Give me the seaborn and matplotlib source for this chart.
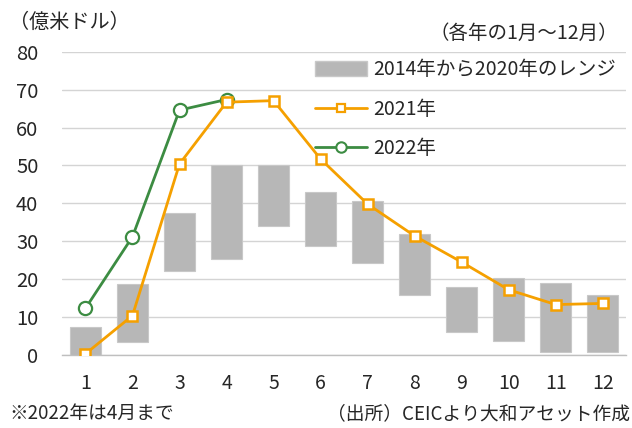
import numpy as np
import pandas as pd
import seaborn as sns
import matplotlib.pyplot as plt
from matplotlib.patches import Patch
from matplotlib.lines import Line2D

months = [1, 2, 3, 4, 5, 6, 7, 8, 9, 10, 11, 12]
range_low = [0.0, 3.4, 22.2, 25.3, 34.1, 28.8, 24.2, 15.9, 6.0, 3.6, 0.8, 0.7]
range_high = [7.5, 18.7, 37.4, 50.1, 50.1, 42.9, 40.7, 31.9, 18.0, 20.4, 18.9, 15.7]
y2021 = [0.3, 10.4, 50.4, 66.7, 67.1, 51.7, 39.8, 31.4, 24.5, 17.2, 13.3, 13.6]
y2022 = [12.3, 31.2, 64.6, 67.4]

gray = '#b7b7b7'
orange = '#f5a000'
green = '#3c8c42'

sns.set_theme(style='white')
plt.rcParams['font.family'] = ['Noto Sans CJK JP', 'DejaVu Sans']

fig = plt.figure(figsize=(6.32, 4.28), dpi=100)
ax = fig.add_axes([0.098, 0.1706, 0.893, 0.7085])

pos = np.arange(len(months))
ax.bar(pos, np.array(range_high) - np.array(range_low), bottom=range_low,
       width=0.66, color=gray, edgecolor='#c8c8c8', linewidth=0.8, zorder=2)

df21 = pd.DataFrame({'x': pos, 'v': y2021})
df22 = pd.DataFrame({'x': pos[:len(y2022)], 'v': y2022})
sns.lineplot(data=df21, x='x', y='v', ax=ax, color=orange, linewidth=2.0,
             marker='s', markersize=7, markerfacecolor='white',
             markeredgecolor=orange, markeredgewidth=1.8, zorder=4)
sns.lineplot(data=df22, x='x', y='v', ax=ax, color=green, linewidth=2.0,
             marker='o', markersize=9.5, markerfacecolor='white',
             markeredgecolor=green, markeredgewidth=1.6, zorder=3)

ax.set_xlim(-0.5, len(months) - 0.5)
ax.set_ylim(0, 80)
ax.set_yticks(range(0, 81, 10))
ax.set_xticks(pos)
ax.set_xticklabels([str(m) for m in months])
ax.set_xticks(np.arange(-0.5, len(months), 1), minor=True)
ax.tick_params(axis='x', which='major', length=0, pad=13, labelsize=14)
ax.tick_params(axis='x', which='minor', length=6, width=0.8, color='#bfbfbf', direction='out')
ax.tick_params(axis='y', length=0, pad=17, labelsize=14.5)
ax.yaxis.grid(True, color='#d4d4d4', linewidth=1.0, zorder=0)
ax.set_axisbelow(True)
for s in ['left', 'right', 'top']:
    ax.spines[s].set_visible(False)
ax.spines['bottom'].set_color('#bfbfbf')
ax.spines['bottom'].set_linewidth(1.0)
ax.set_xlabel('')
ax.set_ylabel('')

handles = [
    Patch(facecolor=gray, edgecolor='#c8c8c8'),
    Line2D([], [], color=orange, lw=2.0, marker='s', markersize=6,
           markerfacecolor='white', markeredgecolor=orange, markeredgewidth=1.6),
    Line2D([], [], color=green, lw=2.0, marker='o', markersize=7.5,
           markerfacecolor='white', markeredgecolor=green, markeredgewidth=1.5),
]
labels = ['2014年から2020年のレンジ', '2021年', '2022年']
leg = ax.legend(handles, labels, loc='upper left', bbox_to_anchor=(0.448, 0.975),
                frameon=False, fontsize=14, handlelength=2.7, handleheight=0.75,
                labelspacing=0.95, handletextpad=0.3, borderaxespad=0, borderpad=0)

fig.text(0.015, 0.948, '（億米ドル）', fontsize=14.5, ha='left', va='center')
fig.text(0.978, 0.922, '（各年の1月～12月）', fontsize=14, ha='right', va='center')
fig.text(0.015, 0.033, '※2022年は4月まで', fontsize=13.5, ha='left', va='center')
fig.text(0.997, 0.033, '（出所）CEICより大和アセット作成', fontsize=13.5, ha='right', va='center')

fig.savefig('out.png', dpi=100, facecolor='white')
